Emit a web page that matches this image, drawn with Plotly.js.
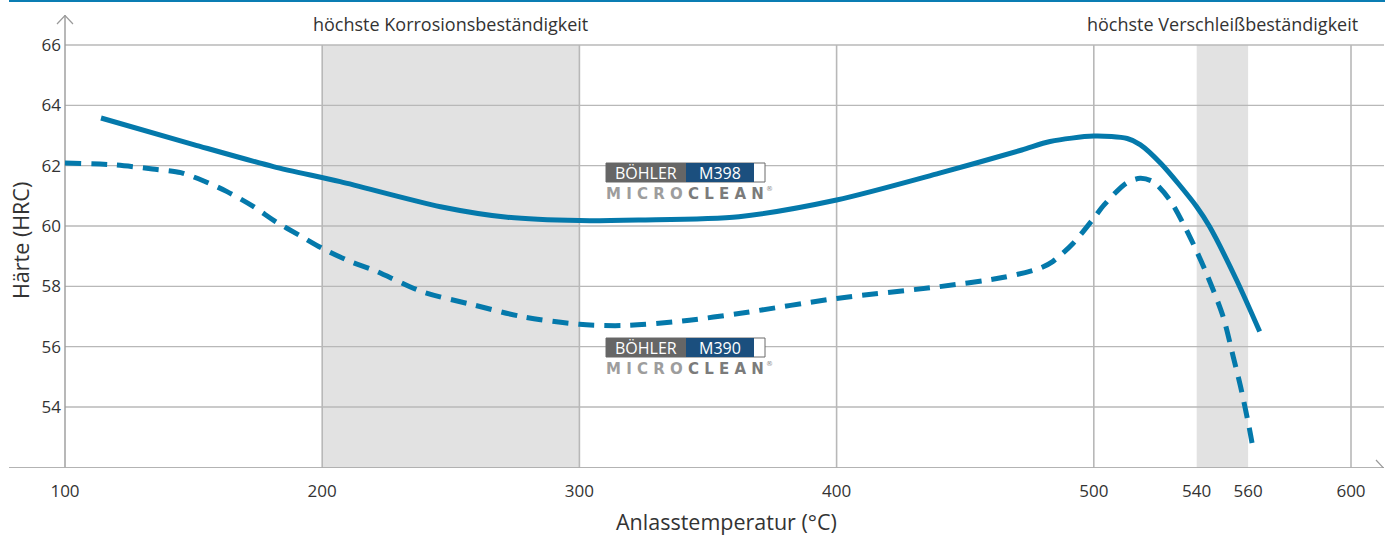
<!DOCTYPE html>
<html>
<head>
<meta charset="utf-8">
<script src="https://cdn.plot.ly/plotly-3.0.1.min.js"></script>
<style>html,body{margin:0;padding:0;background:#fff;}#chart{width:1394px;height:536px;}</style>
</head>
<body>
<div id="chart"></div>
<script>
// ---- data ----
const m398Temp = [114, 150, 181, 207, 246, 272, 300, 323, 362, 400, 440, 472, 483, 500, 513, 518, 526, 540, 545, 555.5, 564.5];
const m398Hrc  = [63.58, 62.7, 61.97, 61.47, 60.64, 60.29, 60.18, 60.2, 60.31, 60.86, 61.75, 62.52, 62.8, 62.98, 62.9, 62.7, 62.08, 60.64, 59.98, 58.21, 56.5];
const m390Temp = [100, 120, 134, 145, 154, 163, 173, 182, 191, 200, 211, 220, 239, 259, 278, 300, 317, 340, 362, 400, 440, 465, 479, 484, 492, 500, 504, 512.6, 518, 523, 529.6, 537.3, 543.8, 550.3, 554.2, 557, 560.6, 562];
const m390Hrc  = [62.09, 62.02, 61.89, 61.77, 61.49, 61.14, 60.66, 60.14, 59.70, 59.26, 58.82, 58.54, 57.82, 57.38, 56.99, 56.74, 56.7, 56.85, 57.1, 57.6, 57.99, 58.3, 58.6, 58.82, 59.43, 60.26, 60.7, 61.42, 61.58, 61.47, 60.86, 59.65, 58.43, 56.99, 55.67, 54.7, 53.24, 52.58];
const xTicks = [100, 200, 300, 400, 500, 540, 560, 600];
const yTicks = [54, 56, 58, 60, 62, 64, 66];
const gridX = [200, 300, 400, 500, 600];
const bandCorrosion = [200, 300];
const bandWear = [540, 560];
const seriesNames = ['M398', 'M390'];
const zoneLabels = ['höchste Korrosionsbeständigkeit', 'höchste Verschleißbeständigkeit'];
const xTitle = 'Anlasstemperatur (°C)';
const yTitle = 'Härte (HRC)';

// ---- geometry helpers (pixel <-> data / paper) ----
const PX0 = 65, X0 = 100, KX = 2.572;
const PY0 = 45, Y0 = 66, KY = 30.167;
const px2x = p => X0 + (p - PX0) / KX;
const py2y = p => Y0 - (p - PY0) / KY;
const PL = 9, PW = 1375, PB = 468, PH = 453;
const px2p = p => (p - PL) / PW;
const py2p = p => (PB - p) / PH;

const BLUE = '#0479ab';
const GRID = '#b8b8b8';
const AXIS = '#9a9a9a';
const TXT = '#333333';
const FONT = '"Open Sans", "Noto Sans", sans-serif';

const shapes = [];
// shaded bands
[bandCorrosion, bandWear].forEach(b => shapes.push({type:'rect', layer:'below', xref:'x', yref:'y',
  x0:b[0], x1:b[1], y0:52, y1:66, fillcolor:'#e2e2e2', line:{width:0}}));
// horizontal grid
yTicks.forEach(v => shapes.push({type:'line', layer:'below', xref:'x', yref:'y',
  x0:100, x1:px2x(1385), y0:v, y1:v, line:{color:GRID, width:1.4}}));
// vertical grid
gridX.forEach(v => shapes.push({type:'line', layer:'below', xref:'x', yref:'y',
  x0:v, x1:v, y0:52, y1:66, line:{color:GRID, width:1.6}}));
// y axis line + arrow
shapes.push({type:'line', layer:'below', xref:'x', yref:'y', x0:100, x1:100, y0:52, y1:py2y(15), line:{color:AXIS, width:1.4}});
shapes.push({type:'path', layer:'below', xref:'x', yref:'y',
  path:`M ${px2x(57)} ${py2y(24)} L ${px2x(65)} ${py2y(15.5)} L ${px2x(73)} ${py2y(24)}`, line:{color:AXIS, width:1.2}});
// x axis line + arrow
shapes.push({type:'line', layer:'below', xref:'x', yref:'y', x0:px2x(9), x1:px2x(1384), y0:py2y(468), y1:py2y(468), line:{color:AXIS, width:1.4}});
shapes.push({type:'path', layer:'below', xref:'x', yref:'y',
  path:`M ${px2x(1376)} ${py2y(460)} L ${px2x(1383.5)} ${py2y(468)} L ${px2x(1376)} ${py2y(476)}`, line:{color:AXIS, width:1.2}});
// top blue rule (outside plot area -> paper refs)
shapes.push({type:'line', xref:'paper', yref:'paper', x0:px2p(9), x1:px2p(1385), y0:py2p(1), y1:py2p(1), line:{color:'#0a7db3', width:2}});

const annotations = [];
// zone labels
annotations.push({x:250, y:py2y(24), xref:'x', yref:'y', xanchor:'center', yanchor:'middle', text:zoneLabels[0], showarrow:false, font:{family:FONT, size:18, color:TXT}});
annotations.push({x:550, y:py2y(24), xref:'x', yref:'y', xanchor:'center', yanchor:'middle', text:zoneLabels[1], showarrow:false, font:{family:FONT, size:18, color:TXT}});
// axis titles
annotations.push({x:px2p(726), y:py2p(521), xref:'paper', yref:'paper', xanchor:'center', yanchor:'middle', text:xTitle, showarrow:false, font:{family:FONT, size:21.5, color:TXT}});
annotations.push({x:px2p(20), y:py2p(241), xref:'paper', yref:'paper', xanchor:'center', yanchor:'middle', text:yTitle, showarrow:false, textangle:-90, font:{family:FONT, size:21.5, color:TXT}});

// brand labels (BÖHLER M398 / M390 MICROCLEAN)
function brand(name, top) {
  const y0 = py2y(top), y1 = py2y(top + 19);
  shapes.push({type:'rect', xref:'x', yref:'y', x0:px2x(606), x1:px2x(765), y0:y1, y1:y0, fillcolor:'#ffffff', line:{color:'#6a6a6a', width:1}});
  shapes.push({type:'rect', xref:'x', yref:'y', x0:px2x(606), x1:px2x(686), y0:y1, y1:y0, fillcolor:'#666666', line:{width:0}});
  shapes.push({type:'rect', xref:'x', yref:'y', x0:px2x(686), x1:px2x(754), y0:y1, y1:y0, fillcolor:'#1b4f7e', line:{width:0}});
  const yc = py2y(top + 9.5);
  annotations.push({x:px2x(646), y:yc, xref:'x', yref:'y', xanchor:'center', yanchor:'middle', text:'BÖHLER', showarrow:false, font:{family:FONT, size:16, color:'#ffffff'}});
  annotations.push({x:px2x(720), y:yc, xref:'x', yref:'y', xanchor:'center', yanchor:'middle', text:name, showarrow:false, font:{family:FONT, size:16, color:'#ffffff'}});
  annotations.push({x:px2x(604), y:py2y(top + 30.5), xref:'x', yref:'y', xanchor:'left', yanchor:'middle', text:'<span style="color:#9d9d9d">M I C R O </span><span style="color:#7b7b7b">C L E A N</span>', showarrow:false, font:{family:'DejaVu Sans', size:15, weight:700, color:'#8a8a8a'}});
  annotations.push({x:px2x(769), y:py2y(top + 26), xref:'x', yref:'y', xanchor:'center', yanchor:'middle', text:'®', showarrow:false, font:{family:'DejaVu Sans', size:7, color:'#8a8a8a'}});
}
brand(seriesNames[0], 163);
brand(seriesNames[1], 338);

const traces = [
  {x:m398Temp, y:m398Hrc, name:seriesNames[0], type:'scatter', mode:'lines', line:{color:BLUE, width:5, shape:'spline', smoothing:0.8}, hoverinfo:'x+y'},
  {x:m390Temp, y:m390Hrc, name:seriesNames[1], type:'scatter', mode:'lines', line:{color:BLUE, width:5, dash:'16px,10px', shape:'spline', smoothing:0.8}, hoverinfo:'x+y'}
];

const layout = {
  width:1394, height:536,
  margin:{l:9, r:10, t:15, b:68},
  paper_bgcolor:'#ffffff', plot_bgcolor:'rgba(0,0,0,0)',
  showlegend:false,
  font:{family:FONT, color:TXT},
  xaxis:{range:[px2x(9), px2x(1384)], tickvals:xTicks, ticktext:xTicks.map(String), showgrid:false, zeroline:false, showline:false, ticks:'', ticklabelstandoff:11, tickfont:{family:FONT, size:17, color:TXT}},
  yaxis:{range:[py2y(468), py2y(15)], tickvals:yTicks, ticktext:yTicks.map(String), anchor:'free', position:(65-9)/1375, showgrid:false, zeroline:false, showline:false, ticks:'', ticklabelstandoff:4, tickfont:{family:FONT, size:17, color:TXT}},
  shapes:shapes,
  annotations:annotations
};

Plotly.newPlot('chart', traces, layout, {displayModeBar:false, staticPlot:true});
</script>
</body>
</html>
